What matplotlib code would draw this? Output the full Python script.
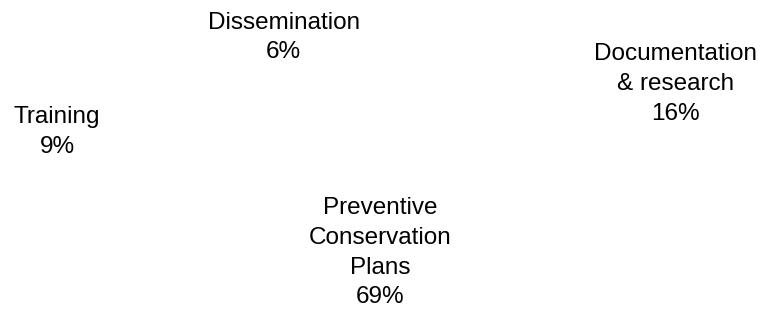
import matplotlib
matplotlib.use("Agg")
import matplotlib.pyplot as plt

categories = ["Documentation\n& research", "Preventive\nConservation\nPlans", "Training", "Dissemination"]
values = [16, 69, 9, 6]

# label block centres in figure fraction (layout)
label_pos = [(0.878, 0.730), (0.494, 0.187), (0.0741, 0.575), (0.369, 0.879)]

plt.rcParams['font.family'] = ['Liberation Sans', 'DejaVu Sans']
fig = plt.figure(figsize=(7.69, 3.11), dpi=100)
ax = fig.add_axes([0.3, 0.1, 0.4, 0.8])
wedges, _ = ax.pie(values, startangle=90, counterclock=False,
                   colors=['white'] * len(values),
                   wedgeprops=dict(linewidth=0))
ax.set_aspect('equal')
ax.axis('off')

total = sum(values)
for cat, v, (x, y) in zip(categories, values, label_pos):
    fig.text(x, y, f"{cat}\n{round(100 * v / total)}%", ha='center', va='center',
             fontsize=17.5, linespacing=1.45, color='black')

fig.savefig("out.png", dpi=100, facecolor='white')
